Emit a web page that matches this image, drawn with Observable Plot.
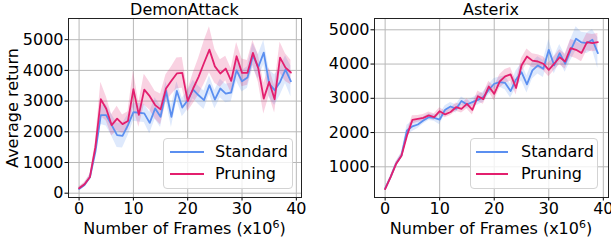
<!DOCTYPE html>
<html><head><meta charset="utf-8">
<script src="https://cdn.jsdelivr.net/npm/d3@7"></script>
<script src="https://cdn.jsdelivr.net/npm/@observablehq/plot@0.6"></script>
<style>
body{margin:0;background:#fff;}
#wrap{position:relative;width:611px;height:240px;font-family:"DejaVu Sans",sans-serif;color:#000;overflow:hidden;background:#fff}
#wrap svg{overflow:visible}
.abs{position:absolute}
.ctr{transform:translate(-50%,-50%);white-space:nowrap;font-size:16px;line-height:1}
.legend{position:absolute;box-sizing:border-box;border:1px solid #d3d3d3;border-radius:4px;background:rgba(255,255,255,0.8);height:51px}
.sw{position:absolute;height:2px}
.lt{position:absolute;font-size:16px;line-height:1;transform:translateY(-50%);white-space:nowrap}
sup{font-size:11px;line-height:0}
</style>
</head><body>
<div id="wrap"></div>
<script>
const frames = [0,1,2,3,4,5,6,7,8,9,10,11,12,13,14,15,16,17,18,19,20,21,22,23,24,25,26,27,28,29,30,31,32,33,34,35,36,37,38,39];
const xTicks = [0,10,20,30,40];
const demonYTicks = [0,1000,2000,3000,4000,5000];
const asterixYTicks = [1000,2000,3000,4000,5000];
const seriesNames = ["Standard","Pruning"];
const titles = ["DemonAttack","Asterix"];

const demonStandard = [140,270,520,1350,2540,2540,2215,1890,1870,2215,2640,2620,2600,2290,2760,2490,3330,2490,3330,2790,3030,3375,3190,3030,3520,3050,3410,3245,3280,4000,3645,3765,4480,4110,4580,3570,3355,3625,4025,3645];
const demonStandardStd = [50,60,80,150,300,350,350,400,400,350,300,300,300,350,350,350,300,350,300,300,300,300,300,300,300,300,300,300,300,350,350,350,400,400,400,450,500,450,450,500];
const demonPruning = [160,290,530,1500,3060,2750,2215,2430,2250,2350,3390,2550,3375,3160,2870,2730,3410,3660,3900,3920,3000,3410,3790,4240,4675,4130,3900,4060,3660,4460,3920,3920,4570,4060,3080,3625,3060,4415,4090,3930];
const demonPruningStd = [50,60,80,150,550,400,350,400,300,300,600,400,500,450,450,500,450,450,500,500,350,500,600,700,750,550,450,400,400,450,450,400,400,450,500,450,450,500,450,400];

const asterixStandard = [360,700,1090,1330,2060,2180,2235,2350,2450,2430,2380,2665,2760,2690,2920,2820,2890,2955,3035,3250,3425,3475,3450,3210,3550,3765,3405,3815,3960,3860,4415,3960,4320,4010,4400,4740,4630,4610,4710,4320];
const asterixStandardStd = [30,40,60,80,150,150,120,100,100,100,150,120,120,120,120,120,120,150,150,150,150,150,200,200,250,250,250,250,250,250,300,250,250,250,300,350,300,300,300,450];
const asterixPruning = [350,700,1080,1320,1910,2370,2400,2430,2500,2450,2625,2530,2600,2740,2690,2840,2665,3060,2975,3345,3130,3490,3640,3700,3300,3960,4220,4100,4075,4010,3830,4010,4200,4075,4465,4415,4320,4640,4610,4640];
const asterixPruningStd = [30,40,60,80,120,120,100,100,100,100,100,100,100,120,120,150,150,150,150,150,200,200,200,200,200,200,220,200,200,200,200,200,220,220,250,250,250,250,250,250];

const colors = ["#5b8ff0","#e31f6e"];

function rowsFor(mean, std, name) {
  return frames.map((f, i) => ({x: f, y: mean[i], lo: mean[i] - std[i], hi: mean[i] + std[i], s: name}));
}

function panel(std, stdS, pru, stdP, yDomain, yTicks, W, mL, mR) {
  const rows = rowsFor(std, stdS, seriesNames[0]).concat(rowsFor(pru, stdP, seriesNames[1]));
  return Plot.plot({
    width: W, height: 240,
    marginLeft: mL, marginRight: mR, marginTop: 18, marginBottom: 43,
    style: {fontFamily: "DejaVu Sans, sans-serif", fontSize: "16px", background: "transparent", color: "#000", overflow: "visible"},
    x: {domain: [-1.95, 40.95], ticks: xTicks, tickSize: 3.5, tickPadding: 2, label: null, tickFormat: d => String(d)},
    y: {domain: yDomain, ticks: yTicks, tickSize: 3.5, tickPadding: 1.5, label: null, tickFormat: d => String(d)},
    color: {domain: seriesNames, range: colors},
    marks: [
      Plot.gridX(xTicks, {stroke: "#b8b8b8", strokeOpacity: 1, strokeWidth: 1}),
      Plot.gridY(yTicks, {stroke: "#b8b8b8", strokeOpacity: 1, strokeWidth: 1}),
      Plot.areaY(rows, {x: "x", y1: "lo", y2: "hi", fill: "s", z: "s", fillOpacity: 0.2}),
      Plot.lineY(rows, {x: "x", y: "y", stroke: "s", z: "s", strokeWidth: 1.8}),
      Plot.frame({stroke: "#222", strokeWidth: 1})
    ]
  });
}

const wrap = document.getElementById("wrap");
const p1 = panel(demonStandard, demonStandardStd, demonPruning, demonPruningStd, [-140, 5690], demonYTicks, 305, 68, 4);
p1.style.position = "absolute"; p1.style.left = "0px"; p1.style.top = "0px";
wrap.appendChild(p1);
const p2 = panel(asterixStandard, asterixStandardStd, asterixPruning, asterixPruningStd, [104, 5330], asterixYTicks, 306, 69, 3);
p2.style.position = "absolute"; p2.style.left = "305px"; p2.style.top = "0px";
wrap.appendChild(p2);

function addText(html, x, y, extra) {
  const d = document.createElement("div");
  d.className = "abs ctr";
  d.style.left = x + "px"; d.style.top = y + "px";
  if (extra) d.style.transform = extra;
  d.innerHTML = html;
  wrap.appendChild(d);
}
addText(titles[0], 184.5, 10);
addText(titles[1], 491, 10);
addText("Number of Frames (x10<sup>6</sup>)", 184.5, 229);
addText("Number of Frames (x10<sup>6</sup>)", 491, 229);
addText("Average return", 13, 107.5, "translate(-50%,-50%) rotate(-90deg)");

function legend(left, top, width, swL, swR, textL) {
  const lg = document.createElement("div");
  lg.className = "legend";
  lg.style.left = left + "px"; lg.style.top = top + "px"; lg.style.width = width + "px";
  seriesNames.forEach((n, i) => {
    const yy = i === 0 ? 13 : 35;
    const sw = document.createElement("div");
    sw.className = "sw";
    sw.style.left = swL + "px"; sw.style.width = (swR - swL) + "px";
    sw.style.top = (yy - 1) + "px"; sw.style.background = colors[i];
    lg.appendChild(sw);
    const t = document.createElement("div");
    t.className = "lt";
    t.style.left = textL + "px"; t.style.top = yy + "px";
    t.textContent = n;
    lg.appendChild(t);
  });
  wrap.appendChild(lg);
}
legend(163, 138, 130, 6, 40, 51);
legend(470, 138, 128, 5, 37, 50);
</script>
</body></html>
